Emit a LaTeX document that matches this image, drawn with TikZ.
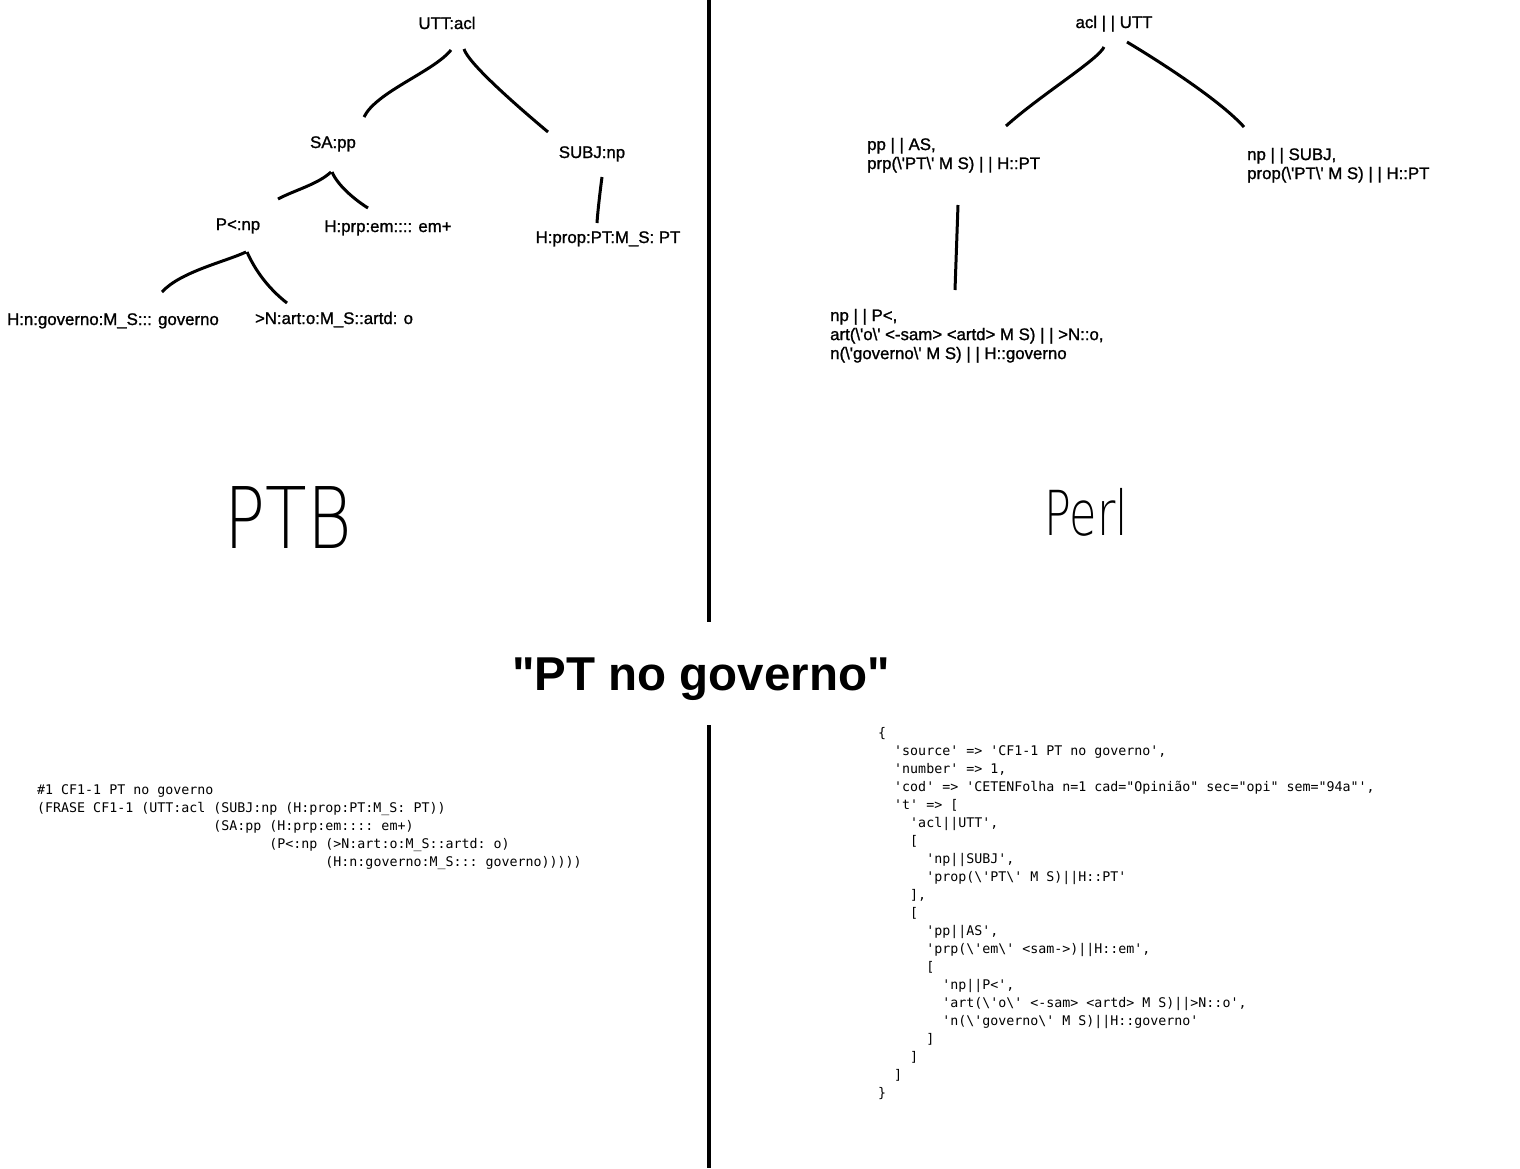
\documentclass[tikz,border=0pt]{standalone}
\usepackage{fontspec}
\usepackage{graphicx}
\setmainfont{Liberation Sans}
\setmonofont{DejaVu Sans Mono}
\newfontfamily\paintfont{Liberation Sans}[FakeBold=1.2]
\newfontfamily\handfont{DejaVu Sans ExtraLight}
\newcommand{\q}{\textquotesingle}
\newcommand{\bsl}{\textbackslash}
\newcommand{\ind}[1]{\hspace*{#1\fontcharwd\font`0}}
\tikzset{
  lbl/.style={font=\paintfont\fontsize{16.8}{19}\selectfont, inner sep=0pt, anchor=base},
  blk/.style={lbl, align=left, anchor=north west},
  code/.style={font=\ttfamily\fontsize{13.3}{18}\selectfont, inner sep=0pt, align=left, anchor=north west},
  branch/.style={line width=3pt},
  divider/.style={line width=4pt}
}

\begin{document}
\begin{tikzpicture}[x=1pt,y=1pt]
    \fill[white] (0,0) rectangle (1520,-1168);
    \useasboundingbox (0,0) rectangle (1520,-1168);

    \draw[divider] (709,0) -- (709,-622);
    \draw[divider] (709,-725) -- (709,-1168);

    % PTB tree
    \node[lbl] (utt) at (447,-29) {UTT:acl};
    \node[lbl] (sa) at (333,-148) {SA:pp};
    \node[lbl] (subj) at (592,-158) {SUBJ:np};
    \node[lbl] (pnp) at (238,-230) {P<:np};
    \node[lbl] (hprp) at (388,-232) {H:prp:em:::: em+};
    \node[lbl] (hprop) at (608,-243) {H:prop:PT:M\_S: PT};
    \node[lbl] (hn) at (113,-325) {H:n:governo:M\_S::: governo};
    \node[lbl] (nart) at (334,-324) {>N:art:o:M\_S::artd: o};

    \draw[branch] ([shift={(4,-21)}]utt.base) to[out=-129,in=64,out distance=28pt,in distance=28pt] ([shift={(31,31)}]sa.base);
    \draw[branch] ([shift={(17,-20)}]utt.base) to[out=-73,in=140,out distance=14pt,in distance=50pt] ([shift={(-44,26)}]subj.base);
    \draw[branch] ([shift={(-2,-24)}]sa.base) to[out=-137,in=28,out distance=18pt,in distance=19pt] ([shift={(40,31)}]pnp.base);
    \draw[branch] ([shift={(-1,-24)}]sa.base) to[out=-67,in=148,out distance=15pt,in distance=15pt] ([shift={(-20,24)}]hprp.base);
    \draw[branch] ([shift={(10,-19)}]subj.base) to[out=-98,in=87,out distance=10pt,in distance=10pt] ([shift={(-11,20)}]hprop.base);
    \draw[branch] ([shift={(8,-22)}]pnp.base) to[out=-155,in=48,out distance=23pt,in distance=27pt] ([shift={(49,33)}]hn.base);
    \draw[branch] ([shift={(9,-22)}]pnp.base) to[out=-66,in=142,out distance=20pt,in distance=24pt] ([shift={(-47,21)}]nart.base);

    % Perl tree
    \node[lbl] (acl) at (1114,-28) {acl | | UTT};
    \node[blk] (pp) at (867,-137.7) {pp | | AS,\\prp(\bsl\q{}PT\bsl\q{} M S) | | H::PT};
    \node[blk] (npsubj) at (1247,-147.7) {np | | SUBJ,\\prop(\bsl\q{}PT\bsl\q{} M S) | | H::PT};
    \node[blk] (npp) at (830,-308.7) {np | | P<,\\art(\bsl\q{}o\bsl\q{} <-sam> <artd> M S) | | >N::o,\\n(\bsl\q{}governo\bsl\q{} M S) | | H::governo};

    \draw[branch] ([shift={(-10,-19)}]acl.base) to[out=-115,in=42,out distance=14pt,in distance=46pt] ([shift={(139,11.7)}]pp.north west);
    \draw[branch] ([shift={(13,-14)}]acl.base) to[out=-31,in=132,out distance=39pt,in distance=36pt] ([shift={(-3,20.7)}]npsubj.north west);
    \draw[branch] ([shift={(91,-67.3)}]pp.north west) -- ([shift={(125,18.7)}]npp.north west);

    \node[inner sep=0pt, anchor=base] (ptb) at (288,-548) {\handfont\fontsize{85}{85}\selectfont\scalebox{0.8}[1]{PTB}};
    \node[inner sep=0pt, anchor=base] (perl) at (1086,-535) {\handfont\fontsize{62}{62}\selectfont\scalebox{0.72}[1]{Perl}};

    \node[inner sep=0pt, anchor=base, font=\bfseries\fontsize{47.5}{50}\selectfont] (title) at (701,-690) {\textquotedbl PT no governo\textquotedbl};

    \node[code] (ptbcode) at (37,-784.3) {\#1 CF1-1 PT no governo\\
      (FRASE CF1-1 (UTT:acl (SUBJ:np (H:prop:PT:M\_S: PT))\\
      \ind{22}(SA:pp (H:prp:em:::: em+)\\
      \ind{29}(P<:np (>N:art:o:M\_S::artd: o)\\
      \ind{36}(H:n:governo:M\_S::: governo)))))};

    \node[code] (perlcode) at (878,-727) {\{\\
      \ind{2}\q{}source\q{} => \q{}CF1-1 PT no governo\q{},\\
      \ind{2}\q{}number\q{} => 1,\\
      \ind{2}\q{}cod\q{} => \q{}CETENFolha n=1 cad="Opinião" sec="opi" sem="94a"\q{},\\
      \ind{2}\q{}t\q{} => [\\
      \ind{4}\q{}acl||UTT\q{},\\
      \ind{4}[\\
      \ind{6}\q{}np||SUBJ\q{},\\
      \ind{6}\q{}prop(\bsl\q{}PT\bsl\q{} M S)||H::PT\q{}\\
      \ind{4}],\\
      \ind{4}[\\
      \ind{6}\q{}pp||AS\q{},\\
      \ind{6}\q{}prp(\bsl\q{}em\bsl\q{} <sam->)||H::em\q{},\\
      \ind{6}[\\
      \ind{8}\q{}np||P<\q{},\\
      \ind{8}\q{}art(\bsl\q{}o\bsl\q{} <-sam> <artd> M S)||>N::o\q{},\\
      \ind{8}\q{}n(\bsl\q{}governo\bsl\q{} M S)||H::governo\q{}\\
      \ind{6}]\\
      \ind{4}]\\
      \ind{2}]\\
      \}};
  \end{tikzpicture}
\end{document}
